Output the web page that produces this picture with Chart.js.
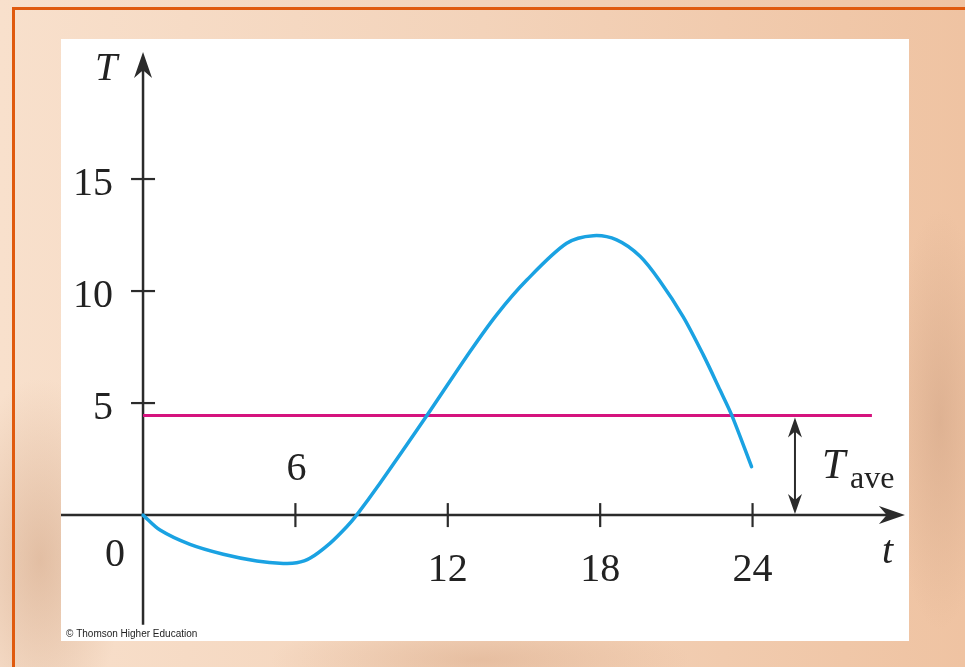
<!DOCTYPE html>
<html>
<head>
<meta charset="utf-8">
<script src="https://cdn.jsdelivr.net/npm/chart.js@4.4.1/dist/chart.umd.min.js"></script>
<style>
  html, body { margin: 0; padding: 0; }
  body {
    width: 965px; height: 667px; overflow: hidden; position: relative;
    background:
      radial-gradient(ellipse 120px 260px at 40px 560px, rgba(200,150,115,0.45), rgba(200,150,115,0) 70%),
      radial-gradient(ellipse 70px 300px at 940px 420px, rgba(205,160,130,0.5), rgba(205,160,130,0) 70%),
      radial-gradient(ellipse 300px 60px at 480px 660px, rgba(215,165,130,0.45), rgba(215,165,130,0) 70%),
      linear-gradient(90deg, #f8e0cc 0%, #f3d3ba 50%, #efc3a2 100%);
  }
  #frame {
    position: absolute; left: 12px; top: 7px; width: 2000px; height: 2000px;
    border-left: 3px solid #e05a0e; border-top: 3px solid #e05a0e;
  }
  #chart {
    position: absolute; left: 61px; top: 39px; background: #fff;
  }
</style>
</head>
<body>
<div id="frame"></div>
<canvas id="chart" width="848" height="602"></canvas>
<script>
// Temperatura T(t) ao longo de 24 horas
const tValues = [0, 0.67, 1.85, 3.16, 4.48, 5.52, 6.05, 6.57, 7.36, 8.02, 8.41, 9.33, 11.17, 12.87, 13.93, 15.11, 16.68, 17.73, 18.65, 19.57, 20.35, 21.27, 22.06, 22.72, 23.18, 23.96];
const tempValues = [0, -0.67, -1.31, -1.75, -2.05, -2.16, -2.13, -1.93, -1.26, -0.52, 0, 1.42, 4.43, 7.29, 8.95, 10.49, 12.13, 12.47, 12.28, 11.55, 10.45, 8.85, 7.15, 5.58, 4.46, 2.16];

// Média e o trecho onde a linha da média é desenhada
const tAve = 4.45;
const aveSpan = [0, 28.7];

// Marcas dos eixos
const xTicks = [6, 12, 18, 24];
const yTicks = [5, 10, 15];

const AXIS = '#2b2b2b';
const SERIF = '"Liberation Serif", "DejaVu Serif", serif';

// Ponta de seta com entalhe na base
function arrowHead(ctx, x, y, angle, len, half) {
    ctx.save();
    ctx.translate(x, y);
    ctx.rotate(angle);
    ctx.beginPath();
    ctx.moveTo(0, 0);
    ctx.lineTo(-len, -half);
    ctx.lineTo(-len * 0.7, 0);
    ctx.lineTo(-len, half);
    ctx.closePath();
    ctx.fillStyle = AXIS;
    ctx.fill();
    ctx.restore();
}

const axesPlugin = {
    id: 'axesPlugin',
    beforeDatasetsDraw(chart) {
        const ctx = chart.ctx;
        const xs = chart.scales.x, ys = chart.scales.y;
        const x0 = xs.getPixelForValue(0), y0 = ys.getPixelForValue(0);
        const xEnd = xs.getPixelForValue(30.0), yTop = ys.getPixelForValue(20.67);
        const yBottom = ys.getPixelForValue(-4.9);

        ctx.save();
        ctx.strokeStyle = AXIS;
        ctx.lineWidth = 2.5;
        // eixo t
        ctx.beginPath();
        ctx.moveTo(chart.chartArea.left, y0);
        ctx.lineTo(xEnd - 10, y0);
        ctx.stroke();
        // eixo T
        ctx.beginPath();
        ctx.moveTo(x0, yBottom);
        ctx.lineTo(x0, yTop + 10);
        ctx.stroke();
        arrowHead(ctx, xEnd, y0, 0, 26, 9);
        arrowHead(ctx, x0, yTop, -Math.PI / 2, 26, 9);

        // marcas
        ctx.lineWidth = 2.2;
        xTicks.forEach(v => {
            const px = xs.getPixelForValue(v);
            ctx.beginPath();
            ctx.moveTo(px, y0 - 12);
            ctx.lineTo(px, y0 + 12);
            ctx.stroke();
        });
        yTicks.forEach(v => {
            const py = ys.getPixelForValue(v);
            ctx.beginPath();
            ctx.moveTo(x0 - 12, py);
            ctx.lineTo(x0 + 12, py);
            ctx.stroke();
        });

        // rótulos numéricos
        ctx.fillStyle = '#222';
        ctx.font = '40px ' + SERIF;
        ctx.textBaseline = 'alphabetic';
        ctx.textAlign = 'right';
        yTicks.forEach(v => {
            ctx.fillText(String(v), x0 - 30, ys.getPixelForValue(v) + 16);
        });
        ctx.fillText('0', x0 - 18, y0 + 51);
        ctx.textAlign = 'center';
        xTicks.forEach(v => {
            const px = xs.getPixelForValue(v);
            if (v === 6) {
                ctx.fillText(String(v), px + 1, y0 - 35);
            } else {
                ctx.fillText(String(v), px, y0 + 66);
            }
        });

        // nomes dos eixos
        ctx.font = 'italic 40px ' + SERIF;
        ctx.textAlign = 'left';
        ctx.fillText('T', x0 - 48, ys.getPixelForValue(20.67) + 28);
        ctx.fillText('t', xs.getPixelForValue(29.1), y0 + 48);
        ctx.restore();
    },
    afterDatasetsDraw(chart) {
        const ctx = chart.ctx;
        const xs = chart.scales.x, ys = chart.scales.y;
        const y0 = ys.getPixelForValue(0), yAve = ys.getPixelForValue(tAve);
        const ax = xs.getPixelForValue(25.67);

        ctx.save();
        // seta dupla indicando T_ave
        ctx.strokeStyle = AXIS;
        ctx.lineWidth = 2;
        ctx.beginPath();
        ctx.moveTo(ax, yAve + 10);
        ctx.lineTo(ax, y0 - 10);
        ctx.stroke();
        arrowHead(ctx, ax, yAve + 2, -Math.PI / 2, 20, 7);
        arrowHead(ctx, ax, y0 - 1, Math.PI / 2, 20, 7);

        ctx.fillStyle = '#222';
        ctx.textBaseline = 'alphabetic';
        ctx.textAlign = 'left';
        ctx.font = 'italic 42px ' + SERIF;
        ctx.fillText('T', ax + 27, y0 - 37);
        ctx.font = '32px ' + SERIF;
        ctx.fillText('ave', ax + 55, y0 - 27);

        // crédito
        ctx.font = '10px "Liberation Sans", Arial, sans-serif';
        ctx.fillStyle = '#222';
        ctx.fillText('\u00A9 Thomson Higher Education', 5, chart.height - 4);
        ctx.restore();
    }
};

const ctx = document.getElementById('chart').getContext('2d');
new Chart(ctx, {
    type: 'scatter',
    data: {
        datasets: [
            {
                label: 'T',
                data: tValues.map((t, i) => ({ x: t, y: tempValues[i] })),
                showLine: true,
                borderColor: '#1aa2e2',
                borderWidth: 3.5,
                pointRadius: 0,
                tension: 0.3,
                borderCapStyle: 'round',
                clip: false
            },
            {
                label: 'T_ave',
                data: aveSpan.map(t => ({ x: t, y: tAve })),
                showLine: true,
                borderColor: '#d5137e',
                borderWidth: 3,
                pointRadius: 0,
                clip: false
            }
        ]
    },
    options: {
        responsive: false,
        animation: false,
        devicePixelRatio: 1,
        layout: { padding: 0 },
        plugins: { legend: { display: false }, tooltip: { enabled: false } },
        scales: {
            x: { type: 'linear', min: -3.23, max: 30.16, display: false },
            y: { type: 'linear', min: -5.62, max: 21.25, display: false }
        }
    },
    plugins: [axesPlugin]
});
</script>
</body>
</html>
